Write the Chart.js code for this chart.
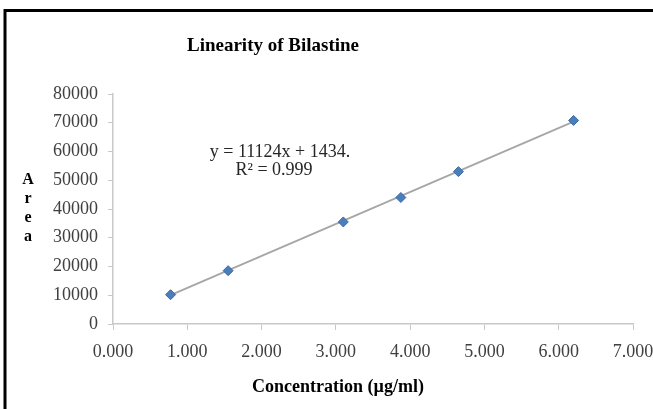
<!DOCTYPE html>
<html>
<head>
<meta charset="utf-8">
<script src="https://cdn.jsdelivr.net/npm/chart.js@4"></script>
<style>
html,body{margin:0;padding:0;background:#fff;}
#wrap{position:relative;width:653px;height:409px;}
</style>
</head>
<body>
<div id="wrap"><canvas id="c" width="653" height="409"></canvas></div>
<script>
const titleText = "Linearity of Bilastine";
const xTitleText = "Concentration (µg/ml)";
const yTitleText = "Area";
const equationLines = ["y = 11124x + 1434.", "R² = 0.999"];
const concentrations = [0.775, 1.55, 3.1, 3.875, 4.65, 6.2];
const areas = [10200, 18550, 35500, 44000, 53000, 70800];
const trendX = [0.775, 6.2];
const trendY = [10055, 70403];
const xTicks = [0, 1, 2, 3, 4, 5, 6, 7];
const yTicks = [0, 10000, 20000, 30000, 40000, 50000, 60000, 70000, 80000];

const serif = "'Liberation Serif', 'Times New Roman', serif";

const overlay = {
  id: 'overlay',
  afterDraw(chart) {
    const ctx = chart.ctx;
    ctx.save();
    ctx.strokeStyle = '#000';
    ctx.lineWidth = 3;
    ctx.beginPath();
    ctx.moveTo(5, 409);
    ctx.lineTo(5, 10.5);
    ctx.lineTo(653, 10.5);
    ctx.stroke();
    ctx.fillStyle = '#000';
    ctx.textAlign = 'center';
    ctx.textBaseline = 'middle';
    ctx.font = "bold 19px " + serif;
    ctx.fillText(titleText, 273, 46);
    ctx.font = "bold 18px " + serif;
    ctx.fillText(xTitleText, 338, 387);
    ctx.font = "bold 16px " + serif;
    const letters = yTitleText.split('');
    letters.forEach((ch, i) => ctx.fillText(ch, 28, 180 + i * 19));
    ctx.fillStyle = '#262626';
    ctx.font = "18px " + serif;
    ctx.fillText(equationLines[0], 280, 152);
    ctx.fillText(equationLines[1], 274, 170);
    ctx.restore();
  }
};

new Chart(document.getElementById('c'), {
  type: 'scatter',
  data: {
    datasets: [
      {
        label: 'Area',
        data: concentrations.map((x, i) => ({x: x, y: areas[i]})),
        pointStyle: 'rectRot',
        pointRadius: 5,
        pointHoverRadius: 5,
        backgroundColor: '#4a7ebb',
        borderColor: '#3b6aa5',
        borderWidth: 1,
        showLine: false,
        order: 0
      },
      {
        label: 'Linear',
        data: trendX.map((x, i) => ({x: x, y: trendY[i]})),
        showLine: true,
        pointRadius: 0,
        borderColor: '#a6a6a6',
        borderWidth: 1.8,
        fill: false,
        order: 1
      }
    ]
  },
  options: {
    responsive: false,
    animation: false,
    events: [],
    layout: {padding: {left: 0, right: 20, top: 94, bottom: 0}},
    plugins: {legend: {display: false}, title: {display: false}, tooltip: {enabled: false}},
    scales: {
      x: {
        type: 'linear',
        min: 0, max: 7,
        afterBuildTicks: (s) => { s.ticks = xTicks.map(v => ({value: v})); },
        ticks: {
          callback: (v) => Number(v).toFixed(3),
          color: '#404040',
          font: {family: serif, size: 18},
          padding: 11,
          maxRotation: 0,
          autoSkip: false
        },
        grid: {drawOnChartArea: false, drawTicks: true, tickLength: 6, color: '#c8c8c8'},
        border: {display: true, color: '#c8c8c8', width: 1.5},
        afterFit: (s) => { s.height = 85; s.paddingLeft = 0; s.paddingRight = 0; }
      },
      y: {
        type: 'linear',
        min: 0, max: 80000,
        afterBuildTicks: (s) => { s.ticks = yTicks.map(v => ({value: v})); },
        ticks: {
          callback: (v) => String(v),
          color: '#404040',
          font: {family: serif, size: 18},
          padding: 10
        },
        grid: {drawOnChartArea: false, drawTicks: true, tickLength: 5, color: '#c8c8c8'},
        border: {display: true, color: '#c8c8c8', width: 1.5},
        afterFit: (s) => { s.width = 113; s.paddingTop = 0; s.paddingBottom = 0; }
      }
    }
  },
  plugins: [overlay]
});
</script>
</body>
</html>
